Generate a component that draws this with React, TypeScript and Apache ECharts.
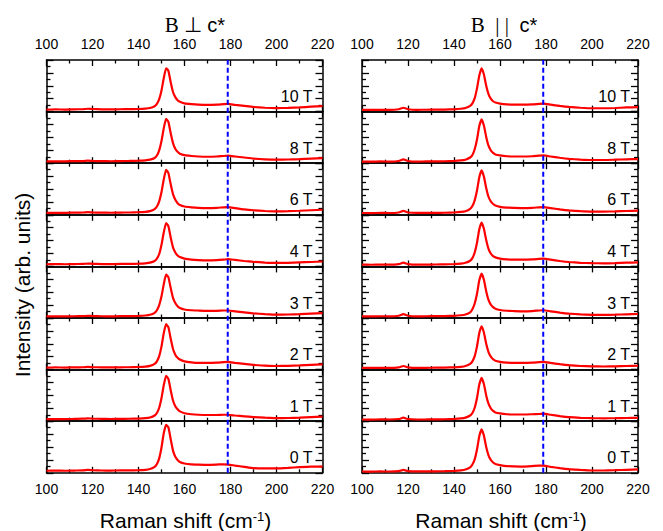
import React, { useEffect, useRef } from "react";
import * as echarts from "echarts";

// Raman shift grid (cm^-1)
const X = [100,104,108,112,116,118,120,124,128,132,136,140,143,145,147,148,149,150,151,152,153,154,155,156,157,158,160,163,166,170,174,177,179,182,186,190,195,200,205,210,215,220];

const FIELDS = ["10 T", "8 T", "6 T", "4 T", "3 T", "2 T", "1 T", "0 T"];
const DASH_X = 178.8;
const X_MIN = 100;
const X_MAX = 220;
const X_STEP = 20;

// B ⊥ c* spectra (normalised per panel), top to bottom: 10,8,6,4,3,2,1,0 T
const PERP_10 = [0.040,0.042,0.040,0.044,0.048,0.055,0.050,0.045,0.043,0.046,0.047,0.050,0.058,0.070,0.105,0.15,0.24,0.41,0.65,0.84,0.79,0.57,0.38,0.28,0.22,0.19,0.16,0.145,0.135,0.13,0.135,0.145,0.15,0.13,0.11,0.09,0.075,0.068,0.072,0.082,0.095,0.105];
const PERP_8 = [0.035,0.038,0.036,0.040,0.042,0.048,0.044,0.040,0.038,0.042,0.044,0.048,0.056,0.068,0.10,0.15,0.25,0.43,0.68,0.86,0.80,0.58,0.39,0.28,0.22,0.185,0.155,0.14,0.13,0.125,0.13,0.14,0.145,0.13,0.11,0.09,0.076,0.07,0.072,0.08,0.09,0.10];
const PERP_6 = [0.038,0.040,0.038,0.042,0.045,0.052,0.046,0.042,0.040,0.044,0.045,0.050,0.058,0.072,0.11,0.16,0.26,0.44,0.69,0.87,0.81,0.59,0.40,0.29,0.225,0.19,0.16,0.145,0.135,0.13,0.135,0.145,0.15,0.13,0.105,0.088,0.074,0.066,0.07,0.078,0.088,0.098];
const PERP_4 = [0.042,0.044,0.042,0.046,0.048,0.055,0.050,0.046,0.044,0.047,0.048,0.052,0.060,0.072,0.105,0.15,0.24,0.42,0.66,0.84,0.78,0.56,0.37,0.27,0.21,0.18,0.15,0.13,0.12,0.115,0.12,0.13,0.14,0.125,0.105,0.088,0.075,0.068,0.07,0.078,0.085,0.095];
const PERP_3 = [0.030,0.032,0.030,0.034,0.036,0.042,0.038,0.034,0.032,0.035,0.036,0.040,0.048,0.062,0.10,0.15,0.25,0.42,0.66,0.84,0.79,0.58,0.39,0.29,0.23,0.195,0.165,0.15,0.145,0.14,0.14,0.145,0.145,0.13,0.11,0.09,0.075,0.065,0.068,0.075,0.085,0.095];
const PERP_2 = [0.040,0.042,0.040,0.044,0.046,0.052,0.048,0.044,0.042,0.045,0.046,0.050,0.058,0.072,0.11,0.16,0.26,0.45,0.71,0.88,0.82,0.60,0.40,0.29,0.23,0.195,0.16,0.14,0.13,0.13,0.135,0.145,0.15,0.13,0.11,0.09,0.078,0.07,0.072,0.08,0.09,0.10];
const PERP_1 = [0.040,0.042,0.040,0.044,0.048,0.056,0.050,0.045,0.043,0.046,0.047,0.050,0.058,0.072,0.11,0.16,0.26,0.45,0.70,0.88,0.82,0.60,0.40,0.29,0.23,0.19,0.155,0.135,0.125,0.12,0.12,0.125,0.125,0.11,0.095,0.08,0.068,0.06,0.062,0.07,0.08,0.09];
const PERP_0 = [0.040,0.042,0.040,0.044,0.048,0.056,0.050,0.045,0.043,0.046,0.047,0.050,0.058,0.074,0.115,0.17,0.28,0.49,0.77,0.93,0.88,0.65,0.43,0.31,0.25,0.21,0.18,0.165,0.16,0.155,0.16,0.165,0.16,0.14,0.115,0.09,0.085,0.085,0.095,0.11,0.12,0.12];

// B || c* spectra
const PARA_10 = [0.035,0.033,0.036,0.034,0.045,0.075,0.045,0.035,0.036,0.038,0.040,0.045,0.055,0.07,0.11,0.16,0.26,0.45,0.70,0.84,0.72,0.50,0.34,0.25,0.20,0.175,0.155,0.14,0.135,0.135,0.14,0.15,0.155,0.135,0.11,0.09,0.075,0.065,0.065,0.07,0.08,0.085];
const PARA_8 = [0.032,0.030,0.034,0.032,0.042,0.076,0.042,0.032,0.034,0.036,0.038,0.043,0.053,0.068,0.11,0.16,0.27,0.46,0.72,0.85,0.73,0.51,0.34,0.25,0.20,0.17,0.15,0.135,0.13,0.13,0.135,0.145,0.15,0.13,0.105,0.085,0.07,0.062,0.062,0.068,0.075,0.08];
const PARA_6 = [0.035,0.034,0.036,0.035,0.045,0.078,0.045,0.036,0.036,0.038,0.040,0.045,0.055,0.07,0.115,0.17,0.28,0.47,0.73,0.86,0.74,0.52,0.35,0.26,0.21,0.18,0.155,0.14,0.135,0.13,0.135,0.145,0.15,0.13,0.105,0.085,0.07,0.062,0.062,0.066,0.074,0.08];
const PARA_4 = [0.034,0.032,0.035,0.034,0.044,0.072,0.044,0.034,0.035,0.037,0.039,0.044,0.054,0.07,0.11,0.16,0.27,0.46,0.72,0.85,0.73,0.51,0.34,0.25,0.20,0.175,0.15,0.135,0.13,0.13,0.135,0.145,0.15,0.13,0.105,0.085,0.07,0.062,0.06,0.065,0.072,0.078];
const PARA_3 = [0.033,0.031,0.034,0.033,0.043,0.074,0.043,0.033,0.034,0.036,0.038,0.043,0.053,0.069,0.11,0.17,0.28,0.47,0.73,0.86,0.74,0.52,0.35,0.26,0.21,0.18,0.155,0.14,0.135,0.13,0.135,0.145,0.15,0.13,0.105,0.085,0.07,0.062,0.06,0.064,0.072,0.078];
const PARA_2 = [0.034,0.032,0.035,0.034,0.044,0.070,0.044,0.034,0.035,0.037,0.039,0.044,0.054,0.07,0.11,0.16,0.26,0.45,0.71,0.84,0.72,0.50,0.34,0.25,0.20,0.17,0.15,0.135,0.13,0.13,0.135,0.145,0.15,0.13,0.105,0.085,0.07,0.062,0.06,0.064,0.07,0.075];
const PARA_1 = [0.033,0.031,0.034,0.033,0.042,0.068,0.042,0.033,0.034,0.036,0.038,0.043,0.053,0.069,0.11,0.16,0.26,0.45,0.71,0.84,0.72,0.50,0.34,0.25,0.20,0.17,0.15,0.135,0.13,0.13,0.135,0.14,0.145,0.125,0.10,0.08,0.066,0.058,0.056,0.058,0.062,0.066];
const PARA_0 = [0.025,0.024,0.026,0.025,0.034,0.055,0.034,0.026,0.027,0.029,0.032,0.038,0.048,0.064,0.105,0.16,0.26,0.45,0.71,0.84,0.72,0.50,0.34,0.25,0.20,0.17,0.15,0.13,0.125,0.12,0.13,0.14,0.14,0.115,0.09,0.07,0.055,0.045,0.045,0.05,0.058,0.065];

const PERP = [PERP_10, PERP_8, PERP_6, PERP_4, PERP_3, PERP_2, PERP_1, PERP_0];
const PARA = [PARA_10, PARA_8, PARA_6, PARA_4, PARA_3, PARA_2, PARA_1, PARA_0];
const COLUMNS = [PERP, PARA];

// layout
const GRID_LEFT = [46.5, 362];
const GRID_W = 276;
const TOP0 = 60;
const PANEL_H = 51.6;
const SANS = "Liberation Sans, Arial, Helvetica, sans-serif";
const SERIF = "Liberation Serif, Times New Roman, serif";
const NB = "\u00A0";

function xAxis(gridIndex: number, position: "top" | "bottom", showLabel: boolean) {
  return {
    type: "value",
    gridIndex,
    position,
    min: X_MIN,
    max: X_MAX,
    interval: X_STEP,
    axisLine: { show: true, onZero: false, lineStyle: { color: "#000", width: 1.5 } },
    axisTick: { show: true, inside: true, length: 6, lineStyle: { color: "#000", width: 1.3 } },
    minorTick: { show: true, splitNumber: 2, length: 3.5, lineStyle: { color: "#000", width: 1.3 } },
    splitLine: { show: false },
    minorSplitLine: { show: false },
    axisLabel: { show: showLabel, color: "#000", fontSize: 14, fontFamily: SANS, margin: 9 },
  };
}

function yAxis(gridIndex: number, position: "left" | "right") {
  return {
    type: "value",
    gridIndex,
    position,
    min: 0,
    max: 1,
    interval: 0.25,
    axisLine: { show: true, onZero: false, lineStyle: { color: "#000", width: 1.5 } },
    axisTick: { show: true, inside: true, length: 7, lineStyle: { color: "#000", width: 1.3 } },
    minorTick: { show: true, splitNumber: 2, length: 4, lineStyle: { color: "#000", width: 1.3 } },
    splitLine: { show: false },
    minorSplitLine: { show: false },
    axisLabel: { show: false },
  };
}

export default function App() {
  const ref = useRef<HTMLDivElement>(null);
  useEffect(() => {
    if (!ref.current) return;
    const chart = echarts.init(ref.current, null, { renderer: "svg" });
    const grid: any[] = [];
    const xAxes: any[] = [];
    const yAxes: any[] = [];
    const series: any[] = [];
    const graphic: any[] = [];

    COLUMNS.forEach((col, c) => {
      col.forEach((vals, r) => {
        const k = grid.length;
        const top = TOP0 + r * PANEL_H;
        grid.push({ left: GRID_LEFT[c], top, width: GRID_W, height: PANEL_H });
        xAxes.push(xAxis(k, "bottom", r === col.length - 1));
        xAxes.push(xAxis(k, "top", r === 0));
        yAxes.push(yAxis(k, "left"));
        yAxes.push(yAxis(k, "right"));
        series.push({
          type: "line",
          xAxisIndex: 2 * k,
          yAxisIndex: 2 * k,
          data: X.map((x, i) => [x, vals[i]]),
          showSymbol: false,
          symbol: "none",
          smooth: 0.15,
          lineStyle: { color: "#ff0000", width: 2.2 },
          z: 3,
        });
        graphic.push({
          type: "text",
          x: GRID_LEFT[c] + GRID_W - (c === 0 ? 10 : 8),
          y: top + PANEL_H - 15,
          style: {
            text: FIELDS[r],
            fill: "#000",
            font: `16px ${SANS}`,
            align: "right",
            verticalAlign: "middle",
          },
          z: 10,
        });
      });
    });

    // overlay grids for the dashed reference line
    COLUMNS.forEach((col, c) => {
      const k = grid.length;
      grid.push({ left: GRID_LEFT[c], top: TOP0, width: GRID_W, height: PANEL_H * col.length });
      xAxes.push({ type: "value", gridIndex: k, min: X_MIN, max: X_MAX, show: false });
      yAxes.push({ type: "value", gridIndex: k, min: 0, max: 1, show: false });
      series.push({
        type: "line",
        xAxisIndex: xAxes.length - 1,
        yAxisIndex: yAxes.length - 1,
        data: [[DASH_X, 0], [DASH_X, 1]],
        showSymbol: false,
        symbol: "none",
        lineStyle: { color: "#0000ff", width: 2, type: [5, 3] },
        z: 4,
      });
    });

    // column titles
    const titleCenters = [195, 504];
    const titleTexts = [
      `{s|B${NB}⊥${NB}}{a|c*}`,
      `{s|B${NB}${NB}|${NB}|${NB}${NB}}{a|c*}`,
    ];
    titleTexts.forEach((t, c) => {
      graphic.push({
        type: "text",
        x: titleCenters[c],
        y: 25,
        style: {
          text: t,
          align: "center",
          verticalAlign: "middle",
          rich: {
            s: { fontFamily: SERIF, fontSize: 21, fill: "#000" },
            a: { fontFamily: SANS, fontSize: 20, fill: "#000" },
          },
        },
      });
      graphic.push({
        type: "text",
        x: GRID_LEFT[c] + GRID_W / 2 + 1,
        y: 520,
        style: {
          text: "{m|Raman shift (cm}{p|-1}{m|)}",
          align: "center",
          verticalAlign: "middle",
          rich: {
            m: { fontFamily: SANS, fontSize: 21, fill: "#000" },
            p: { fontFamily: SANS, fontSize: 13, fill: "#000", verticalAlign: "top" },
          },
        },
      });
    });

    graphic.push({
      type: "text",
      x: 22,
      y: 285,
      rotation: Math.PI / 2,
      style: {
        text: "Intensity (arb. units)",
        font: `21px ${SANS}`,
        fill: "#000",
        align: "center",
        verticalAlign: "middle",
      },
    });

    chart.setOption({
      animation: false,
      backgroundColor: "#fff",
      grid,
      xAxis: xAxes,
      yAxis: yAxes,
      series,
      graphic,
    });
    return () => chart.dispose();
  }, []);

  return (
    <div
      ref={ref}
      style={{ position: "fixed", left: 0, top: 0, width: 663, height: 531 }}
    />
  );
}
